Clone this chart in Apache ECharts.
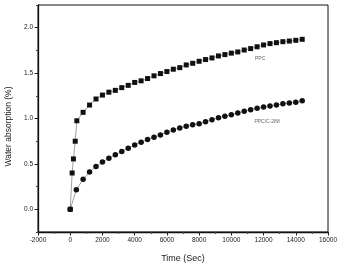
<!DOCTYPE html>
<html>
<head>
<meta charset="utf-8">
<script src="https://cdn.jsdelivr.net/npm/echarts@6/dist/echarts.min.js"></script>
<style>
  html, body { margin: 0; padding: 0; background: #fff; }
  #main { width: 339px; height: 265px; }
</style>
</head>
<body>
<div id="main"></div>
<script>
// PPC (squares)
var ppcTime = [0, 120, 200, 310, 410, 800, 1200, 1600, 2000, 2400, 2800, 3200, 3600, 4000, 4400, 4800, 5200, 5600, 6000, 6400, 6800, 7200, 7600, 8000, 8400, 8800, 9200, 9600, 10000, 10400, 10800, 11200, 11600, 12000, 12400, 12800, 13200, 13600, 14000, 14400]
var ppcValues = [0, 0.40, 0.555, 0.75, 0.975, 1.068, 1.148, 1.215, 1.258, 1.29, 1.31, 1.34, 1.365, 1.397, 1.415, 1.44, 1.47, 1.495, 1.517, 1.543, 1.56, 1.59, 1.608, 1.63, 1.649, 1.667, 1.689, 1.704, 1.72, 1.733, 1.754, 1.77, 1.79, 1.81, 1.825, 1.835, 1.846, 1.853, 1.861, 1.872]
// PPC/C-288 (circles)
var c288Time = [0, 380, 800, 1200, 1600, 2000, 2400, 2800, 3200, 3600, 4000, 4400, 4800, 5200, 5600, 6000, 6400, 6800, 7200, 7600, 8000, 8400, 8800, 9200, 9600, 10000, 10400, 10800, 11200, 11600, 12000, 12400, 12800, 13200, 13600, 14000, 14400]
var c288Values = [0, 0.216, 0.33, 0.41, 0.47, 0.52, 0.563, 0.60, 0.636, 0.673, 0.709, 0.739, 0.768, 0.794, 0.819, 0.849, 0.874, 0.896, 0.914, 0.93, 0.943, 0.965, 0.987, 1.008, 1.024, 1.042, 1.06, 1.079, 1.097, 1.112, 1.126, 1.137, 1.148, 1.162, 1.17, 1.178, 1.195]

var yLabelValues = [0, 0.5, 1.0, 1.5, 2.0]
var yMinorValues = [-0.25, 0.25, 0.75, 1.25, 1.75, 2.25]
var seriesNames = ['PPC', 'PPC/C-288']
// where the curve names sit, in data units
var nameAt = [[11440, 1.663], [11400, 0.969]]

function pairs (xs, ys) {
  var out = []
  for (var i = 0; i < xs.length; i++) out.push([xs[i], ys[i]])
  return out
}

var font = 'Liberation Sans, Arial, sans-serif'

var myChart = echarts.init(document.getElementById('main'))
myChart.setOption({
  animation: false,
  grid: {
    left: 38,
    right: 11,
    top: 5,
    bottom: 33,
    containLabel: false,
    outerBoundsMode: 'none',
    show: true,
    borderColor: '#111',
    borderWidth: 1
  },
  xAxis: {
    type: 'value',
    min: -2000,
    max: 16000,
    interval: 2000,
    name: 'Time (Sec)',
    nameLocation: 'middle',
    nameGap: 22,
    nameTextStyle: { fontFamily: font, fontSize: 9, color: '#222' },
    axisLine: { onZero: false, lineStyle: { color: '#111', width: 1.3 } },
    axisTick: { inside: false, length: 3.5, lineStyle: { color: '#222' } },
    minorTick: { show: true, splitNumber: 2, length: 2, lineStyle: { color: '#444' } },
    axisLabel: {
      fontFamily: font,
      fontSize: 6.5,
      color: '#222',
      margin: 5,
      formatter: function (v) { return String(v) }
    },
    splitLine: { show: false }
  },
  yAxis: [
    {
      type: 'value',
      min: -0.25,
      max: 2.25,
      name: 'Water absorption (%)',
      nameLocation: 'middle',
      nameGap: 23,
      nameTextStyle: { fontFamily: font, fontSize: 8.5, color: '#222', padding: [0, 16, 0, 0] },
      axisLine: { show: true, onZero: false, lineStyle: { color: '#111', width: 1.3 } },
      axisTick: { inside: false, length: 3.5, customValues: yLabelValues, lineStyle: { color: '#222' } },
      axisLabel: {
        fontFamily: font,
        fontSize: 6.5,
        color: '#222',
        margin: 5,
        customValues: yLabelValues,
        formatter: function (v) { return v.toFixed(1) }
      },
      splitLine: { show: false }
    },
    {
      type: 'value',
      position: 'left',
      min: -0.25,
      max: 2.25,
      axisLine: { show: false, onZero: false },
      axisTick: { inside: false, length: 2, customValues: yMinorValues, lineStyle: { color: '#444' } },
      axisLabel: { show: false },
      splitLine: { show: false }
    }
  ],
  series: [
    {
      name: seriesNames[0],
      type: 'line',
      data: pairs(ppcTime, ppcValues),
      symbol: 'rect',
      symbolSize: 5,
      itemStyle: { color: '#111' },
      lineStyle: { color: '#888', width: 0.8 },
      markPoint: {
        symbol: 'rect',
        symbolSize: 1,
        itemStyle: { color: 'rgba(0,0,0,0)' },
        label: { show: true, position: 'right', distance: 0, formatter: seriesNames[0], fontFamily: font, fontSize: 5, color: '#666' },
        data: [{ coord: nameAt[0] }]
      }
    },
    {
      name: seriesNames[1],
      type: 'line',
      data: pairs(c288Time, c288Values),
      symbol: 'circle',
      symbolSize: 5.5,
      itemStyle: { color: '#111' },
      lineStyle: { color: '#888', width: 0.8 },
      markPoint: {
        symbol: 'rect',
        symbolSize: 1,
        itemStyle: { color: 'rgba(0,0,0,0)' },
        label: { show: true, position: 'right', distance: 0, formatter: seriesNames[1], fontFamily: font, fontSize: 5, color: '#666' },
        data: [{ coord: nameAt[1] }]
      }
    }
  ]
})
</script>
</body>
</html>
